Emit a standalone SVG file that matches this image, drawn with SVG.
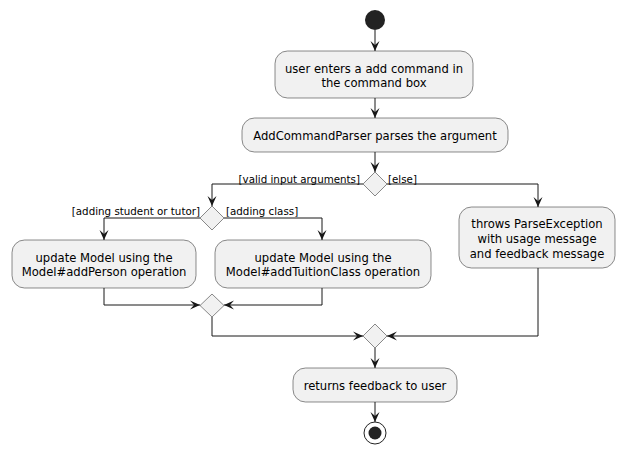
<svg xmlns="http://www.w3.org/2000/svg" width="624" height="454" viewBox="0 0 624 454">
<defs>
<style>
.box{fill:#F1F1F1;stroke:#181818;stroke-width:0.5}
.dia{fill:#F1F1F1;stroke:#181818;stroke-width:0.5}
.t{font-family:"DejaVu Sans",sans-serif;font-size:11.6px;fill:#000;text-anchor:middle}
.l{font-family:"DejaVu Sans",sans-serif;font-size:10.3px;fill:#000}
.ln{fill:none;stroke:#181818;stroke-width:1}
</style>
<marker id="ah" viewBox="0 0 10 10" refX="10" refY="5" markerWidth="10" markerHeight="10" orient="auto" markerUnits="userSpaceOnUse">
<path d="M0,0.5 L10,5 L0,9.5 L4,5 Z" fill="#181818"/>
</marker>
</defs>
<rect width="624" height="454" fill="#FFFFFF"/>
<g id="connectors">
<path class="ln" d="M375,30 V51" marker-end="url(#ah)"/>
<path class="ln" d="M375,98 V118" marker-end="url(#ah)"/>
<path class="ln" d="M375,152 V172" marker-end="url(#ah)"/>
<path class="ln" d="M363,184 H212 V206" marker-end="url(#ah)"/>
<path class="ln" d="M387,184 H538 V207" marker-end="url(#ah)"/>
<path class="ln" d="M200,218 H104 V240" marker-end="url(#ah)"/>
<path class="ln" d="M224,218 H322 V240" marker-end="url(#ah)"/>
<path class="ln" d="M104,288 V305 H200" marker-end="url(#ah)"/>
<path class="ln" d="M322,288 V305 H224" marker-end="url(#ah)"/>
<path class="ln" d="M212,317 V336 H363" marker-end="url(#ah)"/>
<path class="ln" d="M538,268 V336 H387" marker-end="url(#ah)"/>
<path class="ln" d="M375,348 V368" marker-end="url(#ah)"/>
<path class="ln" d="M375,402 V422" marker-end="url(#ah)"/>
<text class="l" x="360" y="183" text-anchor="end">[valid input arguments]</text>
<text class="l" x="388" y="183">[else]</text>
<text class="l" x="200" y="215" text-anchor="end">[adding student or tutor]</text>
<text class="l" x="226" y="215">[adding class]</text>
</g>
<g id="start"><circle cx="375" cy="20" r="10" fill="#222222"/></g>
<g id="enter">
<rect class="box" x="275" y="51" width="198" height="47" rx="12.5"/>
<text class="t" x="374" y="72.5">user enters a add command in</text>
<text class="t" x="374" y="87">the command box</text>
</g>
<g id="parse">
<rect class="box" x="242" y="118" width="266" height="34" rx="12.5"/>
<text class="t" x="375" y="140">AddCommandParser parses the argument</text>
</g>
<g id="d1"><polygon class="dia" points="375,172 387,184 375,196 363,184"/></g>
<g id="d2"><polygon class="dia" points="212,206 224,218 212,230 200,218"/></g>
<g id="addPerson">
<rect class="box" x="12" y="240" width="184" height="48" rx="12.5"/>
<text class="t" x="104" y="261.5">update Model using the</text>
<text class="t" x="104" y="276">Model#addPerson operation</text>
</g>
<g id="addClass">
<rect class="box" x="215" y="240" width="216" height="48" rx="12.5"/>
<text class="t" x="323" y="261.5">update Model using the</text>
<text class="t" x="323" y="276">Model#addTuitionClass operation</text>
</g>
<g id="throws">
<rect class="box" x="459" y="207" width="156" height="61" rx="12.5"/>
<text class="t" x="537" y="228">throws ParseException</text>
<text class="t" x="537" y="243">with usage message</text>
<text class="t" x="537" y="258">and feedback message</text>
</g>
<g id="d3"><polygon class="dia" points="212,294 224,305.5 212,317 200,305.5"/></g>
<g id="d4"><polygon class="dia" points="375,324 387,336 375,348 363,336"/></g>
<g id="returns">
<rect class="box" x="293" y="368" width="164" height="34" rx="12.5"/>
<text class="t" x="375" y="390">returns feedback to user</text>
</g>
<g id="end">
<circle cx="375" cy="433" r="11" fill="none" stroke="#222222" stroke-width="1"/>
<circle cx="375" cy="433" r="6.5" fill="#222222"/>
</g>
</svg>
